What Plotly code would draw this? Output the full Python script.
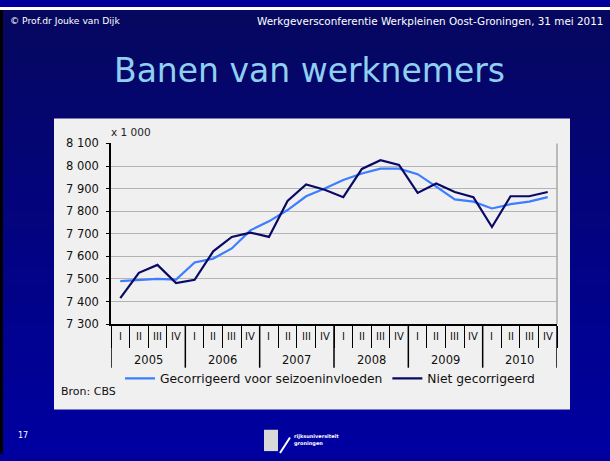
import plotly.graph_objects as go

W, H = 610, 461

# --- data (x 1 000 banen, per kwartaal) ---
years = ['2005', '2006', '2007', '2008', '2009', '2010']
quarters = ['I', 'II', 'III', 'IV']
gecorrigeerd = [7490, 7495, 7500, 7497, 7573, 7590, 7635, 7715,
                7755, 7805, 7866, 7900, 7938, 7967, 7988, 7988,
                7964, 7909, 7852, 7842, 7812, 7831, 7842, 7862]
niet_gecorrigeerd = [7415, 7527, 7562, 7482, 7496, 7622, 7686, 7705,
                     7686, 7845, 7918, 7895, 7862, 7987, 8026, 8005,
                     7881, 7923, 7885, 7862, 7730, 7866, 7866, 7885]

periods = [f'{y} {q}' for y in years for q in quarters]

CHART_FONT = 'DejaVu Sans'


def px(x):
    return x / W


def py(y):
    return 1 - y / H


fig = go.Figure()

fig.add_trace(go.Scatter(
    x=periods, y=gecorrigeerd,
    name='Gecorrigeerd voor seizoeninvloeden', mode='lines',
    line=dict(color='#3d7dff', width=2.2)
))
fig.add_trace(go.Scatter(
    x=periods, y=niet_gecorrigeerd,
    name='Niet gecorrigeerd', mode='lines',
    line=dict(color='#0a0a66', width=2.2)
))

# --- slide background: vertical gradient bands ---
shapes = []
n = 24
top_c, bot_c = (6, 8, 96), (0, 0, 160)
for i in range(n):
    t = i / (n - 1)
    c = tuple(int(a + (b - a) * t) for a, b in zip(top_c, bot_c))
    shapes.append(dict(type='rect', xref='paper', yref='paper', layer='below',
                       x0=0, x1=1, y0=1 - (i + 1) / n - 0.002, y1=1 - i / n,
                       fillcolor='rgb(%d,%d,%d)' % c, line=dict(width=0)))
shapes.append(dict(type='rect', xref='paper', yref='paper', layer='below',
                   x0=0, x1=1, y0=py(3), y1=1, fillcolor='white', line=dict(width=0)))
shapes.append(dict(type='rect', xref='paper', yref='paper', layer='below',
                   x0=0, x1=px(3), y0=0, y1=py(3), fillcolor='black', line=dict(width=0)))
# chart panel
shapes.append(dict(type='rect', xref='paper', yref='paper', layer='below',
                   x0=px(54), x1=px(570), y0=py(415), y1=py(115),
                   fillcolor='#f0f0f0', line=dict(width=0)))
# right frame line of plot area
shapes.append(dict(type='line', xref='x domain', yref='y domain',
                   x0=1, x1=1, y0=0, y1=1, line=dict(color='#a8a8a8', width=1.5)))
# year dividers below the axis
for k in range(len(years) + 1):
    shapes.append(dict(type='line', xref='x', yref='paper',
                       x0=4 * k - 0.5, x1=4 * k - 0.5, y0=py(372), y1=py(327),
                       line=dict(color='black', width=1.5)))
# logo shield
shapes.append(dict(type='rect', xref='paper', yref='paper',
                   x0=px(264), x1=px(278), y0=py(458), y1=py(436),
                   fillcolor='#d8d8d8', line=dict(width=0)))
shapes.append(dict(type='line', xref='paper', yref='paper',
                   x0=px(280), x1=px(290), y0=py(460), y1=py(444),
                   line=dict(color='white', width=2)))

annotations = [
    dict(text='© Prof.dr Jouke van Dijk', x=px(8), y=py(14), xanchor='left',
         font=dict(size=9.2, color='white', family='DejaVu Sans')),
    dict(text='Werkgeversconferentie Werkpleinen Oost-Groningen, 31 mei 2011',
         x=px(605), y=py(14), xanchor='right',
         font=dict(size=10.4, color='white', family='DejaVu Sans')),
    dict(text='Banen van werknemers', x=px(309), y=py(65), xanchor='center',
         font=dict(size=33, color='#8fcff0', family='DejaVu Sans')),
    dict(text='x 1 000', x=px(109), y=py(129), xanchor='left',
         font=dict(size=10.5, color='#222', family=CHART_FONT)),
    dict(text='Bron: CBS', x=px(59), y=py(397), xanchor='left',
         font=dict(size=11, color='#111', family=CHART_FONT)),
    dict(text='17', x=px(16), y=py(442), xanchor='left',
         font=dict(size=8, color='white', family='DejaVu Sans')),
    dict(text='<b>rijksuniversiteit<br>groningen</b>', x=px(292), y=py(447),
         xanchor='left', align='left',
         font=dict(size=5, color='white', family='DejaVu Sans')),
]
for a in annotations:
    a.update(xref='paper', yref='paper', yanchor='middle', showarrow=False)

# quarter and year labels under the x axis
for p in periods:
    annotations.append(dict(text=p.split(' ')[1], x=p, y=py(340), xref='x', yref='paper',
                            showarrow=False, yanchor='middle',
                            font=dict(size=10, color='#111', family=CHART_FONT)))
for k, yr in enumerate(years):
    annotations.append(dict(text=yr, x=4 * k + 1.5, y=py(364), xref='x', yref='paper',
                            showarrow=False, yanchor='middle',
                            font=dict(size=11.5, color='#111', family=CHART_FONT)))

fig.update_layout(
    width=W, height=H,
    margin=dict(l=0, r=0, t=0, b=0),
    paper_bgcolor='#00009a',
    plot_bgcolor='#f0f0f0',
    separators=', ',
    font=dict(family=CHART_FONT, color='#111', size=11),
    shapes=shapes,
    annotations=annotations,
    showlegend=True,
    legend=dict(orientation='h', x=px(120), y=py(383), xanchor='left', yanchor='middle',
                bgcolor='rgba(0,0,0,0)', font=dict(size=12.3, color='#111', family=CHART_FONT),
                itemwidth=30, tracegroupgap=0),
    xaxis=dict(
        type='category', domain=[px(111), px(557)], range=[-0.5, 23.5],
        showline=True, linecolor='black', linewidth=1.5,
        ticks='outside', tickson='boundaries', ticklen=22, tickcolor='black',
        tickwidth=1.2, showticklabels=False, showgrid=False,
    ),
    yaxis=dict(
        domain=[py(327), py(140.7)], range=[7300, 8100], dtick=100,
        tickformat=',d', showline=True, linecolor='black', linewidth=1.5,
        ticks='outside', ticklen=3, tickcolor='black', ticklabelstandoff=5,
        gridcolor='#b4b4b4', gridwidth=1.3, zeroline=False,
        tickfont=dict(size=11.5, color='#111', family=CHART_FONT),
    ),
)

fig.write_html("out.html", config={'displayModeBar': False},
               post_script="document.body.style.margin='0';")
